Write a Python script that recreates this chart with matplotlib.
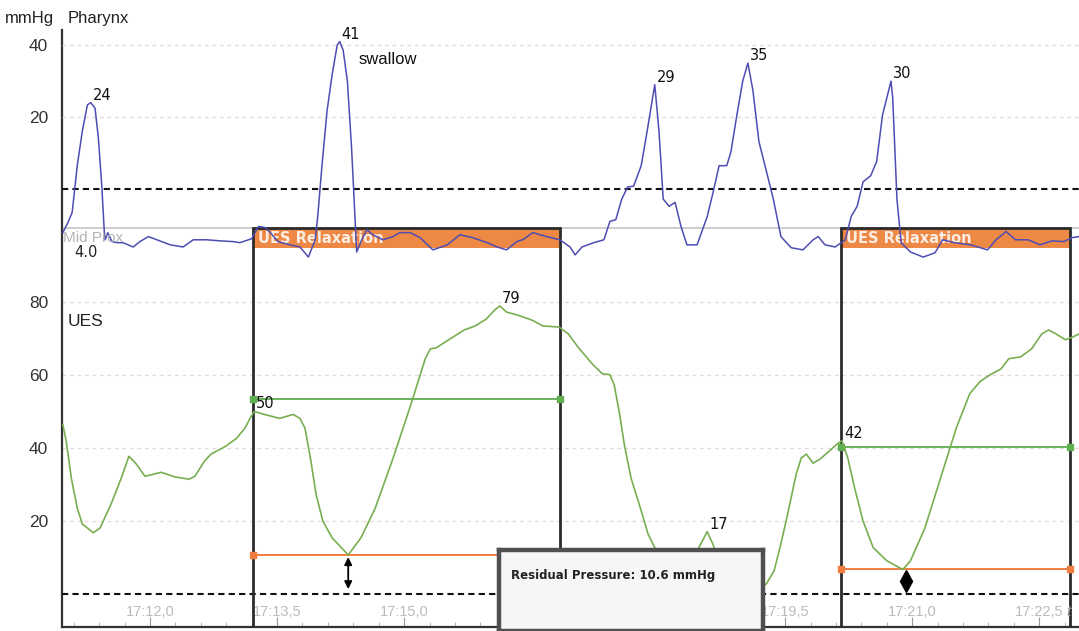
import matplotlib
matplotlib.use("Agg")
import matplotlib.pyplot as plt
from matplotlib.patches import Rectangle
from matplotlib.ticker import MultipleLocator

plt.rcParams["font.family"] = ["Liberation Sans", "DejaVu Sans"]

# time in seconds after 17:12,0 ; pressure in mmHg
pharynx_t = [-1.03, -0.97, -0.92, -0.86, -0.80, -0.74, -0.70, -0.65, -0.61, -0.57,
             -0.54, -0.53, -0.50, -0.45, -0.39, -0.32, -0.20, -0.12, -0.02, 0.08,
             0.24, 0.39, 0.51, 0.67, 0.83, 0.98, 1.06, 1.20, 1.28, 1.36,
             1.42, 1.51, 1.65, 1.77, 1.87, 1.95, 1.98, 2.03, 2.09, 2.15,
             2.21, 2.24, 2.28, 2.33, 2.38, 2.42, 2.44, 2.50, 2.56, 2.63,
             2.75, 2.87, 2.95, 3.07, 3.19, 3.34, 3.51, 3.66, 3.81, 3.98,
             4.10, 4.21, 4.33, 4.40, 4.52, 4.68, 4.84, 4.96, 5.02, 5.10,
             5.24, 5.36, 5.43, 5.50, 5.57, 5.64, 5.71, 5.80, 5.87, 5.94,
             5.96, 6.01, 6.06, 6.13, 6.20, 6.27, 6.34, 6.46, 6.58, 6.65,
             6.72, 6.81, 6.86, 6.93, 7.00, 7.06, 7.12, 7.19, 7.28, 7.36,
             7.45, 7.57, 7.71, 7.83, 7.89, 7.97, 8.09, 8.21, 8.28, 8.35,
             8.42, 8.51, 8.58, 8.65, 8.75, 8.77, 8.82, 8.87, 8.98, 9.13,
             9.27, 9.36, 9.50, 9.69, 9.89, 9.99, 10.11, 10.22, 10.37, 10.51,
             10.65, 10.79, 10.89, 10.97]
pharynx_p = [-12.1, -9.3, -6.5, 6.5, 16.1, 23.4, 24.0, 22.5, 14.1, 0.8,
             -12.1, -14.1, -12.1, -14.6, -14.9, -14.9, -16.1, -14.6, -13.2, -14.1,
             -15.5, -16.1, -14.1, -14.1, -14.4, -14.6, -14.9, -13.8, -10.4, -10.7,
             -12.1, -14.6, -15.5, -16.1, -18.9, -14.1, -7.6, 6.5, 21.7, 31.8,
             40.0, 41.0, 38.6, 30.1, 11.3, -7.6, -17.5, -14.1, -11.3, -12.7,
             -14.1, -13.2, -12.1, -12.1, -13.5, -16.9, -15.5, -12.7, -13.5, -14.9,
             -16.1, -16.9, -14.6, -14.1, -12.1, -13.2, -14.1, -16.1, -18.3, -16.1,
             -14.9, -14.1, -9.0, -8.5, -2.8, 0.6, 0.8, 6.5, 16.1, 26.2,
             29.0, 16.1, -2.8, -4.8, -3.7, -10.4, -15.5, -15.5, -7.6, -0.8,
             6.5, 6.5, 10.4, 20.6, 30.1, 35.0, 27.3, 13.2, 4.8, -2.8,
             -13.2, -16.3, -16.9, -14.1, -13.2, -15.5, -16.1, -14.1, -7.6, -4.8,
             2.0, 3.7, 7.6, 20.6, 30.0, 25.4, -2.8, -14.9, -17.5, -18.9,
             -17.7, -14.1, -14.9, -15.5, -16.9, -14.1, -11.8, -14.1, -14.1, -15.5,
             -14.4, -14.6, -13.5, -13.2]

ues_t = [-1.03, -0.99, -0.93, -0.86, -0.80, -0.67, -0.59, -0.46, -0.34, -0.25,
         -0.17, -0.06, 0.13, 0.30, 0.46, 0.53, 0.64, 0.72, 0.89, 1.02,
         1.12, 1.18, 1.23, 1.35, 1.53, 1.69, 1.77, 1.83, 1.90, 1.96,
         2.04, 2.15, 2.34, 2.49, 2.66, 2.87, 3.08, 3.25, 3.31, 3.38,
         3.54, 3.71, 3.84, 3.97, 4.07, 4.13, 4.21, 4.34, 4.51, 4.64,
         4.83, 4.94, 5.05, 5.22, 5.34, 5.43, 5.48, 5.54, 5.60, 5.68,
         5.79, 5.88, 5.96, 6.08, 6.26, 6.38, 6.48, 6.58, 6.64, 6.73,
         6.91, 7.06, 7.20, 7.28, 7.37, 7.45, 7.53, 7.63, 7.69, 7.75,
         7.83, 7.91, 8.02, 8.11, 8.17, 8.24, 8.32, 8.42, 8.54, 8.70,
         8.89, 8.98, 9.15, 9.35, 9.52, 9.68, 9.80, 9.92, 10.05, 10.14,
         10.28, 10.41, 10.53, 10.61, 10.70, 10.81, 10.90, 10.97]
ues_p = [46.4, 41.8, 31.7, 23.5, 19.1, 16.7, 18.0, 24.6, 31.7, 37.7,
         35.8, 32.2, 33.3, 32.0, 31.4, 32.2, 36.3, 38.3, 40.4, 42.6,
         45.4, 48.1, 50.0, 49.2, 48.1, 49.2, 48.1, 45.4, 36.3, 27.3,
         19.9, 15.3, 10.6, 15.3, 23.5, 37.2, 51.9, 64.5, 67.2, 67.5,
         69.9, 72.4, 73.5, 75.4, 77.9, 79.0, 77.3, 76.5, 75.1, 73.5,
         73.2, 71.3, 67.8, 63.1, 60.4, 60.1, 57.4, 50.0, 41.0, 31.7,
         23.5, 16.4, 12.6, 10.4, 8.5, 9.6, 12.6, 17.0, 13.9, 8.5,
         3.0, 0.5, 1.4, 2.7, 6.3, 13.7, 21.9, 32.8, 37.2, 38.3,
         35.8, 36.9, 39.1, 41.0, 42.0, 37.2, 29.0, 19.9, 12.6, 9.0,
         6.6, 9.0, 18.0, 32.8, 45.4, 54.9, 58.2, 60.1, 61.7, 64.5,
         65.0, 67.2, 71.3, 72.4, 71.3, 69.7, 70.5, 71.3]

# labelled points
pharynx_peak_t = [-0.70, 2.24, 5.96, 7.06, 8.75]
pharynx_peak_p = [24, 41, 29, 35, 30]
ues_mark_t = [1.23, 4.13, 6.58, 8.17]
ues_mark_p = [50, 79, 17, 42]

# UES relaxation windows
relax_start = [1.22, 8.16]
relax_end = [4.84, 10.86]
relax_basal = [53.5, 40.2]
relax_nadir = [10.6, 6.7]
residual = 10.6

tick_t = [0, 1.5, 3, 4.5, 6, 7.5, 9, 10.5]
tick_labels = ["17:12,0", "17:13,5", "17:15,0", "17:16,5",
               "17:18,0", "17:19,5", "17:21,0", "17:22,5"]

W, H = 1079, 631
fig = plt.figure(figsize=(W / 100, H / 100), dpi=100)
fig.patch.set_facecolor("white")


def fx(px):
    return px / W


def fy(py):
    return 1 - py / H


rect = [fx(62), fy(627), fx(W) - fx(62), fy(30) - fy(627)]
ax = fig.add_axes(rect)
ax_ph = fig.add_axes(rect, sharex=ax)
ax_ph.patch.set_visible(False)

ax.set_xlim(-1.04, 10.97)
ax.set_ylim(-9.2, 154.8)
ax_ph.set_ylim(-121.7, 44.2)

for a in (ax, ax_ph):
    for s in ("top", "right"):
        a.spines[s].set_visible(False)
for s in ("left", "bottom"):
    ax.spines[s].set_color("#333333")
    ax.spines[s].set_linewidth(1.6)
    ax_ph.spines[s].set_visible(False)

grid_kw = dict(color="#e2d9d9", linestyle=(0, (3, 3)), linewidth=0.9)
ax.set_yticks([20, 40, 60, 80])
ax_ph.set_yticks([20, 40])
for a in (ax, ax_ph):
    a.yaxis.grid(True, **grid_kw)
    a.set_axisbelow(True)
    a.tick_params(axis="y", length=0, pad=10, labelsize=12.5, labelcolor="#333333")

ax.set_xticks(tick_t, tick_labels)
ax.xaxis.set_minor_locator(MultipleLocator(0.3))
ax.tick_params(axis="x", which="major", direction="in", length=7, color="#999999",
               labelcolor="#bbbbbb", labelsize=10.5, pad=-16)
ax.tick_params(axis="x", which="minor", direction="in", length=3.5, color="#aaaaaa")
ax_ph.tick_params(axis="x", which="both", bottom=False, labelbottom=False)

# reference lines
ax.axhline(0, color="#111111", linestyle=(0, (3, 2)), linewidth=1.5, zorder=3)
ax_ph.axhline(0, color="#111111", linestyle=(0, (3, 2)), linewidth=1.5, zorder=1)
ax.axhline(100.4, color="#c9c9c9", linewidth=1.3, zorder=1)

# relaxation windows
for t0, t1, base, nadir in zip(relax_start, relax_end, relax_basal, relax_nadir):
    ax.add_patch(Rectangle((t0, 94.9), t1 - t0, 5.2, facecolor="#ee8845",
                           edgecolor="none", zorder=2))
    ax.text(t0 + 0.06, 97.4, "UES Relaxation", color="white", fontsize=10.5,
            fontweight="bold", family="DejaVu Sans", va="center", alpha=0.85,
            zorder=2.5)
    ax.add_patch(Rectangle((t0, -20), t1 - t0, 120.4, fill=False,
                           edgecolor="#2b2b2b", linewidth=2, zorder=4))
    ax.plot([t0, t1], [base, base], color="#5fae4f", linewidth=1.3,
            marker="s", markersize=4, zorder=4)
    ax.plot([t0, t1], [nadir, nadir], color="#f07d3f", linewidth=1.4,
            marker="s", markersize=4, zorder=4)

# traces
ax.plot(ues_t, ues_p, color="#78ae50", linewidth=1.2, zorder=5)
ax_ph.plot(pharynx_t, pharynx_p, color="#4d4db3", linewidth=1.1, zorder=3)

num_kw = dict(textcoords="offset pixels", ha="left", va="bottom", fontsize=10.5,
              family="DejaVu Sans", color="#111111")
for t, p in zip(pharynx_peak_t, pharynx_peak_p):
    ax_ph.annotate(str(p), (t, p), xytext=(2, 0), **num_kw)
for t, p in zip(ues_mark_t, ues_mark_p):
    ax.annotate(str(p), (t, p), xytext=(2, 0), zorder=6, **num_kw)

ax_ph.text(2.46, 36, "swallow", fontsize=12, color="#111111", va="center")

# residual pressure markers
ax.annotate("", xy=(2.34, 1.2), xytext=(2.34, 10.0),
            arrowprops=dict(arrowstyle="<|-|>", color="black", lw=1.3,
                            mutation_scale=11, shrinkA=0, shrinkB=0), zorder=6)
ax.plot([8.93], [3.4], marker="d", markersize=11, color="black", zorder=6)

# labels
fig.text(fx(5), fy(18), "mmHg", fontsize=12, color="#222222", va="center")
fig.text(fx(68), fy(18), "Pharynx", fontsize=12, color="#222222", va="center")
fig.text(fx(68), fy(321), "UES", fontsize=12.5, color="#222222", va="center")
fig.text(fx(63), fy(238), "Mid Prox", fontsize=11, color="#b4b4b4", va="center",
         zorder=0.5)
fig.text(fx(74), fy(253), "4.0", fontsize=10.5, family="DejaVu Sans",
         color="#222222", va="center")
fig.text(fx(1066), fy(612), "t", fontsize=11, style="italic", color="#999999",
         va="center")

# residual pressure box
box = fig.add_axes([fx(499), 0, fx(763) - fx(499), fy(550)])
box.set_facecolor("#f6f6f9")
box.set_xticks([])
box.set_yticks([])
for s in box.spines.values():
    s.set_color("#505050")
    s.set_linewidth(3.2)
box.text(0.045, 0.69, f"Residual Pressure: {residual} mmHg", transform=box.transAxes,
         fontsize=8.5, fontweight="bold", family="DejaVu Sans", color="#222222",
         va="center")

fig.savefig("out.png", dpi=100)
